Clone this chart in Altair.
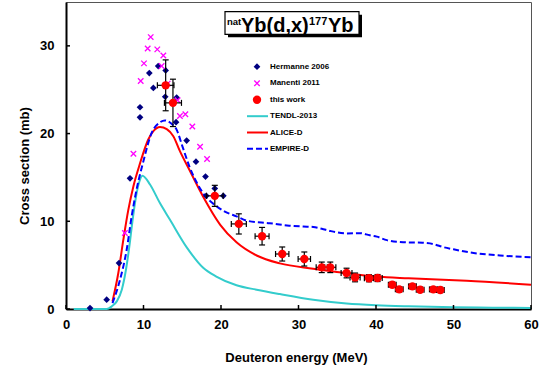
import altair as alt
import pandas as pd

FONT = "Liberation Sans"

# ---------------- data ----------------
# Hermanne 2006
herm_x = [3.1, 5.25, 6.84, 8.26, 9.55, 9.55, 10.75, 11.27, 11.9, 12.86, 12.8, 14.28, 14.2,
          15.57, 16.77, 18.0, 19.2, 18.1, 20.3]
herm_y = [0.1, 1.06, 5.24, 14.9, 21.85, 23.0, 26.9, 25.2, 27.7, 27.2, 24.2, 24.1, 21.3,
          19.2, 16.8, 15.1, 13.75, 12.9, 12.9]

# Manenti 2011
man_x = [7.6, 8.7, 9.64, 10.06, 10.54, 10.93, 11.78, 12.34, 12.56, 13.12, 14.4, 14.7, 15.4,
         16.3, 17.3, 18.2]
man_y = [8.67, 17.7, 26.0, 28.0, 29.7, 31.0, 29.6, 27.7, 28.9, 25.7, 23.8, 22.0, 22.2,
         20.8, 18.5, 17.1]

# this work
tw_x = [12.86, 13.8, 19.2, 22.3, 25.3, 27.9, 30.75, 33.0, 34.1, 36.2, 37.3, 39.1, 40.2,
        42.1, 43.0, 44.7, 45.7, 47.4, 48.3]
tw_y = [25.5, 23.5, 12.9, 9.7, 8.3, 6.27, 5.7, 4.75, 4.75, 4.1, 3.6, 3.5, 3.53,
        2.77, 2.24, 2.58, 2.2, 2.24, 2.17]
tw_xerr = [1.07, 1.1, 1.07, 0.97, 0.9, 0.86, 0.8, 0.72, 0.72, 0.7, 0.65, 0.6, 0.6,
           0.5, 0.5, 0.5, 0.5, 0.5, 0.5]
tw_yerr = [2.9, 2.7, 1.2, 1.15, 1.0, 0.8, 0.8, 0.6, 0.6, 0.55, 0.5, 0.4, 0.4,
           0.3, 0.3, 0.3, 0.3, 0.3, 0.3]

# TENDL-2013
tendl_x = [1, 3, 5.25, 5.9, 6.55, 7.2, 7.74, 8.17, 8.6, 9.03, 9.46, 9.85, 10.84, 12.1, 13.4,
           15.6, 17.7, 19.4, 22.0, 24.6, 27.6, 31.9, 36.2, 40.0, 44.2, 50.0, 55.0, 60.0]
tendl_y = [0, 0, 0, 0.3, 0.87, 2.2, 4.5, 7.1, 10.2, 12.8, 14.5, 15.2, 14.2, 12.1, 10.2,
           7.0, 4.7, 3.7, 2.7, 2.2, 1.7, 1.05, 0.62, 0.42, 0.3, 0.2, 0.15, 0.12]

# ALICE-D
alice_x = [6.0, 6.75, 7.4, 8.04, 8.7, 9.55, 10.6, 11.3, 12.13, 13.0, 13.85, 14.7, 15.9, 17.7,
           19.9, 22.0, 24.6, 27.6, 31.9, 36.2, 40.1, 44.2, 51.7, 60.0]
alice_y = [0.87, 4.1, 7.9, 11.3, 14.0, 16.6, 19.3, 20.3, 20.75, 20.5, 19.7, 18.0, 15.9, 12.8,
           9.6, 7.6, 6.1, 5.2, 4.6, 4.1, 3.7, 3.5, 3.22, 2.77]

# EMPIRE-D
emp_x = [6.0, 6.97, 7.83, 8.47, 9.1, 9.97, 11.05, 12.0, 12.77, 13.5, 14.3, 15.0, 15.9, 17.7,
         19.45, 20.5, 22.0, 23.3, 26.3, 28.8, 30.6, 31.9, 33.0, 34.1, 36.2, 37.9, 39.2, 40.1,
         41.4, 43.5, 46.0, 47.4, 48.7, 50.0, 52.1, 56.0, 60.0]
emp_y = [0.68, 3.34, 6.76, 10.56, 13.6, 16.8, 20.07, 21.2, 21.5, 21.2, 20.4, 18.6, 16.3, 13.2,
         11.7, 11.1, 10.56, 10.07, 9.78, 9.5, 9.4, 9.35, 9.15, 8.9, 8.62, 8.65, 8.4, 8.25,
         7.85, 7.62, 7.55, 7.4, 7.05, 6.8, 6.45, 6.1, 5.9]

x_ticks = [0, 10, 20, 30, 40, 50, 60]
y_ticks = [0, 10, 20, 30]

series_names = ["Hermanne 2006", "Manenti 2011", "this work", "TENDL-2013", "ALICE-D", "EMPIRE-D"]
title_parts = ["nat", "Yb(d,x)", "177", "Yb"]

# ---------------- styles ----------------
NAVY = "#000080"
MAGENTA = "#ff00ff"
RED = "#ff0000"
CYAN = "#33cccc"
BLUE = "#0000ff"
XPATH = "M-1,-1L1,1M1,-1L-1,1"

W, H = 465, 307
XD, YD = [0, 60], [0, 35]
# error-bar cap half-length (3 px) expressed in each axis' units
CAPX = 3 * (XD[1] - XD[0]) / W
CAPY = 3 * (YD[1] - YD[0]) / H


def X(field="x", **kw):
    return alt.X(field, type="quantitative",
                 scale=alt.Scale(domain=XD, nice=False, zero=False, padding=0), **kw)


def Y(field="y", **kw):
    return alt.Y(field, type="quantitative",
                 scale=alt.Scale(domain=YD, nice=False, zero=False, padding=0), **kw)


herm = pd.DataFrame({"x": herm_x, "y": herm_y})
man = pd.DataFrame({"x": man_x, "y": man_y})
tw = pd.DataFrame({"x": tw_x, "y": tw_y, "xe": tw_xerr, "ye": tw_yerr})
tw["xlo"] = tw.x - tw.xe
tw["xhi"] = tw.x + tw.xe
tw["ylo"] = tw.y - tw.ye
tw["yhi"] = tw.y + tw.ye
tw["cxl"] = tw.x - CAPX
tw["cxr"] = tw.x + CAPX
tw["cyl"] = tw.y - CAPY
tw["cyh"] = tw.y + CAPY
tendl = pd.DataFrame({"x": tendl_x, "y": tendl_y})
alice = pd.DataFrame({"x": alice_x, "y": alice_y})
emp = pd.DataFrame({"x": emp_x, "y": emp_y})
xt = pd.DataFrame({"x": x_ticks, "y0": 0.0, "y1": 4 * (YD[1] - YD[0]) / H})
yt = pd.DataFrame({"y": y_ticks, "x0": 0.0, "x1": 4 * (XD[1] - XD[0]) / W})
one = pd.DataFrame({"a": [0]})

layers = []

base = alt.Chart(tendl).mark_line(color=CYAN, strokeWidth=2, interpolate="monotone").encode(
    x=X("x", axis=alt.Axis(values=x_ticks, title="Deuteron energy (MeV)", labelPadding=9,
                           labelFlush=False, titleX=230, titleY=52, titleBaseline="alphabetic")),
    y=Y("y", axis=alt.Axis(values=y_ticks, title="Cross section (mb)", labelPadding=12,
                           labelFlush=False, titleX=-42, titleY=163.5, titleBaseline="middle",
                           titleAngle=270)),
)

# inner ticks
xtick = alt.Chart(xt).mark_rule(color="black", strokeWidth=1.5).encode(
    x=X("x"), y=Y("y0"), y2="y1")
ytick = alt.Chart(yt).mark_rule(color="black", strokeWidth=1.5).encode(
    y=Y("y"), x=X("x0"), x2="x1")

alice_l = alt.Chart(alice).mark_line(color=RED, strokeWidth=2, interpolate="monotone").encode(x=X(), y=Y())
emp_l = alt.Chart(emp).mark_line(color=BLUE, strokeWidth=2, strokeDash=[6, 3],
                                 interpolate="monotone").encode(x=X(), y=Y())

herm_p = alt.Chart(herm).mark_point(shape="diamond", filled=True, color=NAVY, size=45, opacity=1).encode(
    x=X(), y=Y())
man_p = alt.Chart(man).mark_point(shape=XPATH, filled=False, color=MAGENTA, size=30,
                                  strokeWidth=1.3, opacity=1).encode(x=X(), y=Y())

rule = dict(color="black", strokeWidth=1.2)
ev = alt.Chart(tw).mark_rule(**rule).encode(x=X("x"), y=Y("ylo"), y2="yhi")
eh = alt.Chart(tw).mark_rule(**rule).encode(x=X("xlo"), x2="xhi", y=Y("y"))
cap_top = alt.Chart(tw).mark_rule(**rule).encode(x=X("cxl"), x2="cxr", y=Y("yhi"))
cap_bot = alt.Chart(tw).mark_rule(**rule).encode(x=X("cxl"), x2="cxr", y=Y("ylo"))
cap_l = alt.Chart(tw).mark_rule(**rule).encode(x=X("xlo"), y=Y("cyl"), y2="cyh")
cap_r = alt.Chart(tw).mark_rule(**rule).encode(x=X("xhi"), y=Y("cyl"), y2="cyh")
tw_p = alt.Chart(tw).mark_circle(color=RED, size=70, opacity=1).encode(x=X(), y=Y())

layers += [base, xtick, ytick, alice_l, emp_l, herm_p, man_p, ev, eh, cap_top, cap_bot, cap_l, cap_r, tw_p]

# ---------------- legend (manual) ----------------
leg_rows = [64.7, 81.3, 97.8, 114.2, 130.5, 146.8]
mx, lx, l0, l1 = 191, 204, 181, 202
lg = []
lg.append(alt.Chart(one).mark_point(shape="diamond", filled=True, color=NAVY, size=45, opacity=1).encode(
    x=alt.value(mx), y=alt.value(leg_rows[0])))
lg.append(alt.Chart(one).mark_point(shape=XPATH, filled=False, color=MAGENTA, size=30, strokeWidth=1.3,
                                    opacity=1).encode(x=alt.value(mx), y=alt.value(leg_rows[1])))
lg.append(alt.Chart(one).mark_circle(color=RED, size=70, opacity=1).encode(
    x=alt.value(mx), y=alt.value(leg_rows[2])))
lg.append(alt.Chart(one).mark_rule(color=CYAN, strokeWidth=2).encode(
    x=alt.value(l0), x2=alt.value(l1), y=alt.value(leg_rows[3])))
lg.append(alt.Chart(one).mark_rule(color=RED, strokeWidth=2).encode(
    x=alt.value(l0), x2=alt.value(l1), y=alt.value(leg_rows[4])))
lg.append(alt.Chart(one).mark_rule(color=BLUE, strokeWidth=2, strokeDash=[6, 3]).encode(
    x=alt.value(l0), x2=alt.value(l1), y=alt.value(leg_rows[5])))
for name, ry in zip(series_names, leg_rows):
    lg.append(alt.Chart(one).mark_text(text=name, font=FONT, fontSize=8, fontWeight="bold", color="black",
                                       align="left", baseline="middle").encode(
        x=alt.value(lx), y=alt.value(ry)))
layers += lg

# ---------------- title box ----------------
bx0, bx1, by0, by1 = 159, 293, 9.7, 32.3
shadow = alt.Chart(one).mark_rect(color="black").encode(
    x=alt.value(bx0 + 3), x2=alt.value(bx1 + 3), y=alt.value(by0 + 3), y2=alt.value(by1 + 3))
box = alt.Chart(one).mark_rect(fill="white", stroke="black", strokeWidth=1.2).encode(
    x=alt.value(bx0), x2=alt.value(bx1), y=alt.value(by0), y2=alt.value(by1))
t_pos = [(161, 23, 9.5), (175, 30.3, 20), (243, 23, 11), (262, 30.3, 20)]
tt = []
for part, (tx, ty, fs) in zip(title_parts, t_pos):
    tt.append(alt.Chart(one).mark_text(text=part, font=FONT, fontSize=fs, fontWeight="bold", color="black",
                                       align="left", baseline="alphabetic").encode(
        x=alt.value(tx), y=alt.value(ty)))
layers += [shadow, box] + tt

chart = alt.layer(*layers).properties(
    width=W, height=H,
    padding={"left": 66, "top": 2, "right": 8, "bottom": 63},
    autosize=alt.AutoSizeParams(type="none"),
    background="white",
).configure_axis(
    labelFont=FONT, labelFontSize=13, labelFontWeight="bold", labelColor="black",
    titleFont=FONT, titleFontSize=13, titleFontWeight="bold", titleColor="black",
    grid=False, ticks=False, tickSize=0, domainColor="black", domainWidth=2,
).configure_scale(continuousPadding=0).configure_view(stroke="#555555", strokeWidth=1)

chart.save("out.html", embed_options={"renderer": "svg", "actions": False})
